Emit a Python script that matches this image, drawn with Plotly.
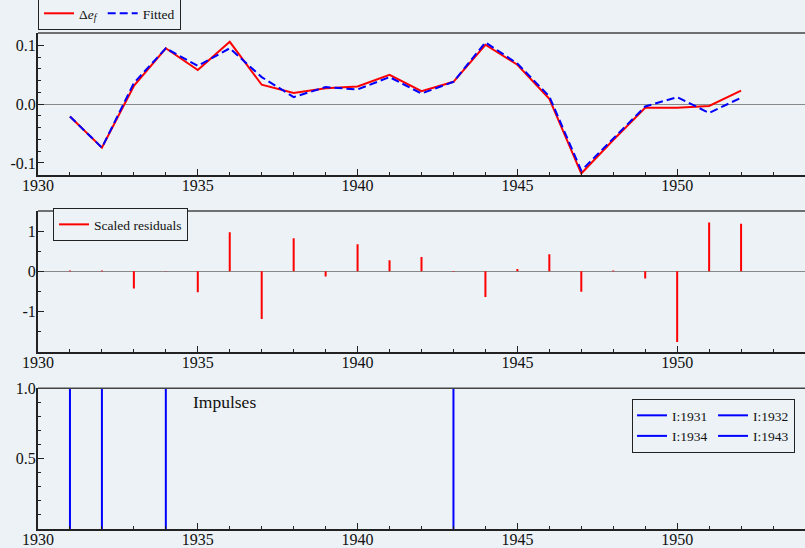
import plotly.graph_objects as go
from plotly.subplots import make_subplots

years = list(range(1931, 1953))
delta_ef = [-0.021, -0.074, 0.031, 0.095, 0.058, 0.106, 0.033, 0.019, 0.027, 0.030, 0.050,
            0.022, 0.038, 0.101, 0.067, 0.009, -0.118, -0.061, -0.006, -0.006, -0.003, 0.023]
fitted = [-0.021, -0.074, 0.036, 0.095, 0.065, 0.095, 0.046, 0.012, 0.029, 0.025, 0.046,
          0.018, 0.038, 0.105, 0.069, 0.013, -0.113, -0.058, -0.004, 0.012, -0.015, 0.011]
scaled_resid = [0.02, 0.02, -0.43, 0.01, -0.52, 0.98, -1.19, 0.83, -0.13, 0.68, 0.28,
                0.36, -0.01, -0.64, 0.06, 0.43, -0.51, 0.02, -0.18, -1.77, 1.22, 1.19]
impulse_years = [1931, 1932, 1934, 1943]
impulse_groups = ["c1", "c2", "c1", "c2"]

top_ticks = [-0.1, 0.0, 0.1]
top_ticktext = ["-0.1", "0.0", "0.1"]
mid_ticks = [-1, 0, 1]
mid_ticktext = ["-1", "0", "1"]
bot_ticks = [0.5, 1.0]
bot_ticktext = ["0.5", "1.0"]
x_ticks = [1930, 1935, 1940, 1945, 1950]

BG = "#ECF2F6"
FONT = "Liberation Serif, Times New Roman, DejaVu Serif, serif"
AX = "#222222"

fig = make_subplots(rows=3, cols=1)

fig.add_trace(go.Scatter(x=years, y=delta_ef, mode="lines", name="Δ<i>e</i><sub><i>f</i></sub>",
                         line=dict(color="#FF0000", width=2), legend="legend"), row=1, col=1)
fig.add_trace(go.Scatter(x=years, y=fitted, mode="lines", name="Fitted",
                         line=dict(color="#0000FF", width=2, dash="8px,4px"), legend="legend"), row=1, col=1)

# spikes for scaled residuals
rx, ry = [], []
for yr, r in zip(years, scaled_resid):
    rx += [yr, yr, None]
    ry += [0, r, None]
fig.add_trace(go.Scatter(x=rx, y=ry, mode="lines", name="Scaled residuals",
                         line=dict(color="#FF0000", width=2), legend="legend2"), row=2, col=1)

# impulse dummies
for iy, grp in zip(impulse_years, impulse_groups):
    dummy = [1 if yr == iy else 0 for yr in years]
    ix, iyv = [], []
    for yr, d in zip(years, dummy):
        if d != 0:
            ix += [yr, yr]
            iyv += [0, d]
    fig.add_trace(go.Scatter(x=ix, y=iyv, mode="lines", name=f"I:{iy}", legendgroup=grp,
                             line=dict(color="#0000FF", width=2), legend="legend3"), row=3, col=1)

domains = [[0.7143, 1.0], [0.3575, 0.6411], [0.0, 0.2837]]
yranges = [[-0.12, 0.121], [-2.01, 1.51], [0, 1.0]]
ytv = [top_ticks, mid_ticks, bot_ticks]
ytt = [top_ticktext, mid_ticktext, bot_ticktext]
ydt = [0.02, 0.5, 0.1]
for i in range(3):
    xa = "xaxis" if i == 0 else f"xaxis{i+1}"
    ya = "yaxis" if i == 0 else f"yaxis{i+1}"
    fig.layout[xa].update(range=[1930, 1954], domain=[0, 1], showgrid=False, zeroline=False,
                          showline=True, linewidth=2, linecolor=AX, automargin=False,
                          tickvals=x_ticks, ticktext=[str(v) for v in x_ticks],
                          ticks="inside", ticklen=6, tickwidth=1.2, tickcolor=AX,
                          ticklabelstandoff=-5,
                          minor=dict(dtick=1, tick0=1930, ticks="inside", ticklen=3, tickwidth=1, tickcolor=AX, showgrid=False),
                          tickfont=dict(family=FONT, size=16, color="#111"))
    fig.layout[ya].update(range=yranges[i], domain=domains[i], showgrid=False,
                          zeroline=(i < 2), zerolinecolor="#888888", zerolinewidth=1,
                          showline=True, linewidth=2, linecolor=AX, automargin=False,
                          tickvals=ytv[i], ticktext=ytt[i],
                          ticks="inside", ticklen=6, tickwidth=1.2, tickcolor=AX,
                          ticklabelstandoff=-3,
                          minor=dict(dtick=ydt[i], tick0=0, ticks="inside", ticklen=3, tickwidth=1, tickcolor=AX, showgrid=False),
                          tickfont=dict(family=FONT, size=16, color="#111"))
    xr = "x domain" if i == 0 else f"x{i+1} domain"
    yr_ = "y domain" if i == 0 else f"y{i+1} domain"
    fig.add_shape(type="line", xref=xr, yref=yr_, x0=0, x1=1, y0=1, y1=1,
                  line=dict(color="#444444", width=1.5))

fig.add_annotation(x=1934.8, y=0.9, xref="x3", yref="y3", text="Impulses", showarrow=False,
                   xanchor="left", yanchor="middle", font=dict(family=FONT, size=17.5, color="#111"))

legend_common = dict(bgcolor=BG, bordercolor=AX, borderwidth=1,
                     font=dict(family=FONT, size=13.5, color="#111"))
fig.update_layout(
    width=805, height=548,
    paper_bgcolor=BG, plot_bgcolor=BG,
    margin=dict(l=38, r=0, t=33, b=19, autoexpand=False),
    showlegend=True,
    legend=dict(x=0, y=1.006, xanchor="left", yanchor="bottom", orientation="h", **legend_common),
    legend2=dict(x=0.0196, y=0.647, xanchor="left", yanchor="top", orientation="v", **legend_common),
    legend3=dict(x=0.987, y=0.262, xanchor="right", yanchor="top", orientation="h",
                 traceorder="grouped", tracegroupgap=0, entrywidth=36, **legend_common),
)

fig.write_html("out.html", config={"displayModeBar": False},
               post_script="document.body.style.margin='0';document.body.style.background='" + BG + "';")
